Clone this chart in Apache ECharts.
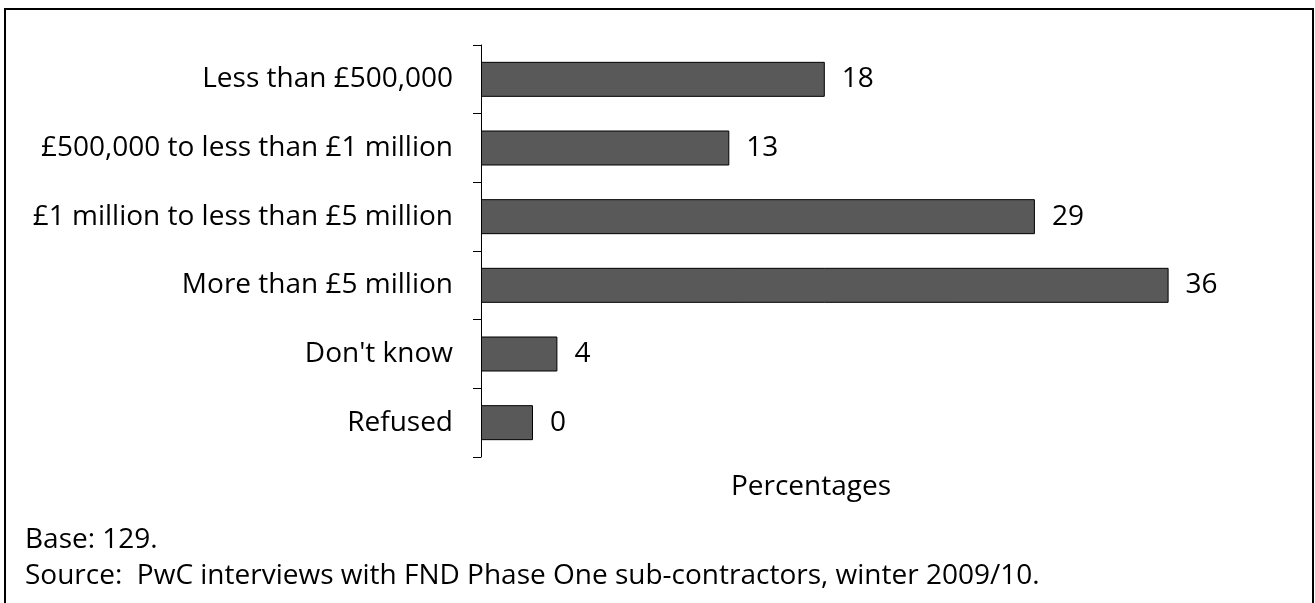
<!DOCTYPE html>
<html>
<head>
<meta charset="utf-8">
<title>Turnover of sub-contractors</title>
<script src="https://cdn.jsdelivr.net/npm/echarts@6/dist/echarts.min.js"></script>
<style>
    html, body { margin: 0; padding: 0; background: #fff; }
    #chart { width: 1315px; height: 603px; }
</style>
</head>
<body>
<div id="chart"></div>
<script type="text/javascript">
    // categories, top to bottom
    var categories = ['Less than £500,000', '£500,000 to less than £1 million', '£1 million to less than £5 million',
        'More than £5 million', "Don't know", 'Refused'];
    // percentages
    var values = [18, 13, 29, 36, 4, 0];

    var chart = echarts.init(document.getElementById('chart'));

    var option = {
        animation: false,
        grid: { left: 481, top: 45, width: 764, bottom: 146 },
        xAxis: {
            type: 'value',
            min: 0,
            max: 40,
            show: false
        },
        yAxis: {
            type: 'category',
            inverse: true,
            data: categories,
            axisLine: { show: true, lineStyle: { color: '#000', width: 1 } },
            axisTick: { show: true, length: 8, lineStyle: { color: '#000', width: 1 } },
            axisLabel: {
                margin: 28,
                fontFamily: 'Open Sans',
                fontSize: 28,
                color: '#000'
            }
        },
        series: [{
            type: 'bar',
            data: values,
            barWidth: 35,
            // the 0 bar is still drawn as a short stub in the original
            barMinHeight: 52,
            itemStyle: { color: '#595959', borderColor: '#000', borderWidth: 1 },
            label: {
                show: true,
                position: 'right',
                distance: 17,
                fontFamily: 'Open Sans',
                fontSize: 28,
                color: '#000'
            }
        }],
        graphic: [
            {
                type: 'rect',
                shape: { x: 5, y: 9, width: 1308, height: 600 },
                style: { fill: 'none', stroke: '#000', lineWidth: 2 }
            },
            {
                type: 'text', x: 811, y: 487,
                style: { text: 'Percentages', font: '28px "Open Sans"', fill: '#000', align: 'center', verticalAlign: 'middle' }
            },
            {
                type: 'text', x: 25, y: 540,
                style: { text: 'Base: 129.', font: '28px "Open Sans"', fill: '#000', verticalAlign: 'middle' }
            },
            {
                type: 'text', x: 25, y: 576,
                style: { text: 'Source:  PwC interviews with FND Phase One sub-contractors, winter 2009/10.', font: '28px "Open Sans"', fill: '#000', verticalAlign: 'middle' }
            }
        ]
    };

    chart.setOption(option);
</script>
</body>
</html>
